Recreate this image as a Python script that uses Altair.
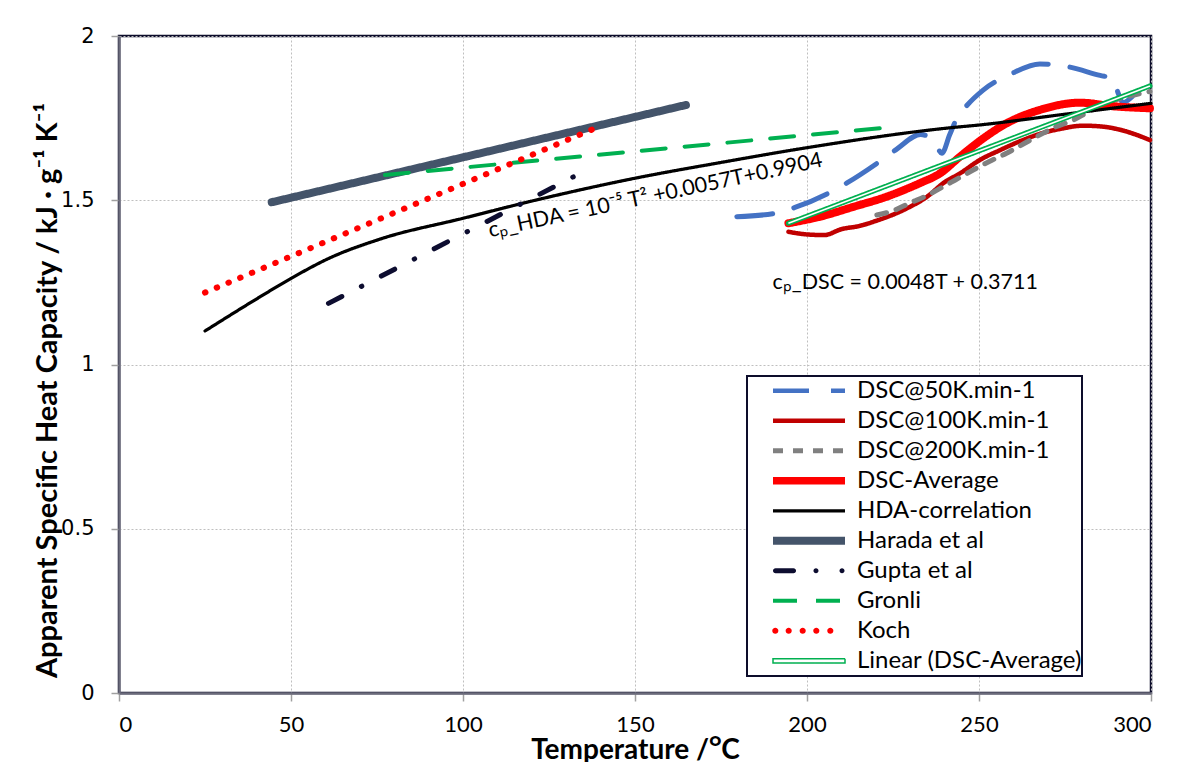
import altair as alt
import pandas as pd

# ---------------- data ----------------
series_names = [
    "DSC@50K.min-1", "DSC@100K.min-1", "DSC@200K.min-1", "DSC-Average",
    "HDA-correlation", "Harada et al", "Gupta et al", "Gronli", "Koch",
    "Linear (DSC-Average)",
]

dsc50_T = [179.6, 190.7, 196.5, 206.7, 211.5, 220.3, 226.0, 233.0, 236.8, 239.2, 241.5,
           243.5, 245.4, 251.3, 259.0, 267.7, 274.5, 285.2, 289.0, 290.5, 291.8, 294.5]
dsc50_cp = [1.450, 1.460, 1.478, 1.524, 1.552, 1.612, 1.655, 1.700, 1.683, 1.643, 1.700,
            1.748, 1.775, 1.836, 1.883, 1.915, 1.909, 1.880, 1.870, 1.825, 1.797, 1.815]

dsc100_T = [194.6, 199.9, 205.0, 210.0, 215.4, 220.0, 228.0, 234.8, 240.0, 244.5,
            250.3, 256.0, 262.0, 267.7, 274.0, 280.3, 286.0, 290.0, 295.0, 299.7]
dsc100_cp = [1.404, 1.396, 1.394, 1.412, 1.422, 1.437, 1.470, 1.510, 1.555, 1.582,
             1.623, 1.652, 1.680, 1.702, 1.718, 1.727, 1.724, 1.717, 1.702, 1.683]

dsc200_T = [220.3, 225.0, 230.0, 235.0, 238.7, 243.0, 248.3, 253.0, 258.0, 263.0,
            267.7, 272.0, 277.4, 282.0, 287.1, 292.9, 299.7]
dsc200_cp = [1.455, 1.468, 1.492, 1.515, 1.536, 1.561, 1.592, 1.618, 1.643, 1.672,
             1.699, 1.722, 1.744, 1.770, 1.795, 1.815, 1.831]

avg_T = [194.6, 203.8, 213.5, 223.2, 232.8, 238.7, 244.5, 251.2, 258.0, 267.7, 279.4, 289.0, 299.7]
avg_cp = [1.430, 1.450, 1.480, 1.511, 1.552, 1.582, 1.633, 1.688, 1.734, 1.775, 1.797, 1.786, 1.780]

hda_T = [25, 41, 50, 61, 76, 100, 121, 150, 175, 200, 242, 250, 275, 300]
hda_cp = [1.102, 1.206, 1.262, 1.323, 1.382, 1.445, 1.500, 1.567, 1.615, 1.660,
          1.721, 1.729, 1.762, 1.795]

harada_T = [44.4, 164.8]
harada_cp = [1.494, 1.790]

gupta_T = [60.9, 135.0]
gupta_cp = [1.186, 1.587]

gronli_T = [77.3, 226.0]
gronli_cp = [1.577, 1.724]

koch_T = [25.0, 137.9]
koch_cp = [1.219, 1.717]

linear_T = [194.6, 299.7]
linear_cp = [1.430, 1.848]

x_ticks = [0, 50, 100, 150, 200, 250, 300]
y_ticks = [0, 0.5, 1, 1.5, 2]

ann_hda_text = ["cₚ_HDA = 10⁻⁵ T² +0.0057T+0.9904"]
ann_hda_T = [107.5]
ann_hda_cp = [1.405]
ann_dsc_text = ["cₚ_DSC = 0.0048T + 0.3711"]
ann_dsc_T = [190.0]
ann_dsc_cp = [1.248]

# ---------------- build table ----------------
series_data = [
    (series_names[0], dsc50_T, dsc50_cp),
    (series_names[1], dsc100_T, dsc100_cp),
    (series_names[2], dsc200_T, dsc200_cp),
    (series_names[3], avg_T, avg_cp),
    (series_names[4], hda_T, hda_cp),
    (series_names[5], harada_T, harada_cp),
    (series_names[6], gupta_T, gupta_cp),
    (series_names[7], gronli_T, gronli_cp),
    (series_names[8], koch_T, koch_cp),
    (series_names[9], linear_T, linear_cp),
]
rows = []
for name, ts, cs in series_data:
    for i, (t, c) in enumerate(zip(ts, cs)):
        rows.append({"series": name, "T": t, "cp": c, "i": i})
df = pd.DataFrame(rows)

# ---------------- styles ----------------
colors = ["#4472C4", "#C00000", "#808080", "#FF0000", "#000000",
          "#44546A", "#0D0D30", "#00B050", "#FF0000", "#00B050"]
dashes = [[36, 22], [1, 0], [10, 10], [1, 0], [1, 0],
          [1, 0], [15, 22, 0.5, 22], [24, 19], [0.5, 12.2], [1, 0]]
widths = [5, 4.5, 5, 8, 3.2, 8, 5, 4, 6, 5]
legend_widths = [4.5, 4.5, 5, 7.5, 3.2, 8, 0, 4, 0, 1.5]
interp = ["monotone", "monotone", "monotone", "monotone", "monotone",
          "linear", "linear", "linear", "linear", "linear"]

LINEAR = series_names[9]
GUPTA = series_names[6]
KOCH = series_names[8]


def circle(cx, r):
    return (f"M{cx - r:.3f},0A{r:.3f},{r:.3f} 0 1,0 {cx + r:.3f},0"
            f"A{r:.3f},{r:.3f} 0 1,0 {cx - r:.3f},0Z")


# legend swatch shapes (unit coordinates, 1 = half the swatch length)
koch_path = "".join(circle(c, 0.085) for c in [-0.936, -0.564, -0.175, 0.203, 0.592])
gupta_path = ("M-0.93,-0.07H-0.43A0.07,0.07 0 0,1 -0.43,0.07H-0.93A0.07,0.07 0 0,1 -0.93,-0.07Z"
              + circle(0.194, 0.07) + circle(0.917, 0.07))
linear_path = "M-1,-0.06H1V0.06H-1Z"

width_expr = " : ".join(
    f"datum.value === '{n}' ? {w}" for n, w in zip(series_names, legend_widths)
) + " : 3"
shape_expr = (f"datum.value === '{LINEAR}' ? '{linear_path}' : "
              f"datum.value === '{KOCH}' ? '{koch_path}' : "
              f"datum.value === '{GUPTA}' ? '{gupta_path}' : 'stroke'")
fill_expr = (f"datum.value === '{KOCH}' ? '#FF0000' : "
             f"datum.value === '{GUPTA}' ? '#0D0D30' : 'transparent'")

legend = alt.Legend(
    title=None,
    orient="none",
    legendX=628,
    legendY=340,
    padding=0,
    clipHeight=29.6,
    rowPadding=0,
    symbolSize=72 * 72,
    symbolOffset=50,
    labelOffset=36,
    labelFont="Lato",
    labelFontSize=24,
    labelColor="#000000",
    labelLimit=500,
    strokeColor="#0D0D2B",
    fillColor="#FFFFFF",
    symbolType={"expr": shape_expr},
    symbolStrokeWidth={"expr": width_expr},
    symbolFillColor={"expr": fill_expr},
)

color_enc = alt.Color("series:N", scale=alt.Scale(domain=series_names, range=colors),
                      legend=legend)
dash_enc = alt.StrokeDash("series:N", scale=alt.Scale(domain=series_names, range=dashes),
                          legend=legend)

x_enc = alt.X("T:Q", scale=alt.Scale(domain=[0, 300], nice=False, zero=False),
              axis=alt.Axis(values=x_ticks, title="Temperature /ᴼC", grid=True,
                            labelFont="Lato", labelFontSize=22, labelPadding=13,
                            titleX=516, titleY=65, titleBaseline="alphabetic",
                            titleAlign="center", titleFontSize=28))
y_enc = alt.Y("cp:Q", scale=alt.Scale(domain=[0, 2], nice=False),
              axis=alt.Axis(values=y_ticks, format="~g", grid=True,
                            title="Apparent Specific Heat Capacity / kJ · g⁻¹ K⁻¹",
                            labelFont="DejaVu Sans", labelFontSize=21, labelPadding=17,
                            titleAngle=270, titleX=-72, titleY=354,
                            titleAlign="center", titleBaseline="middle",
                            titleFontSize=29))

base = alt.Chart(df)
layers = []
for k, name in enumerate(series_names):
    layers.append(
        base.transform_filter(alt.datum.series == name)
        .mark_line(strokeWidth=widths[k], strokeCap="round", strokeJoin="round",
                   interpolate=interp[k])
        .encode(x=x_enc, y=y_enc, color=color_enc, strokeDash=dash_enc,
                order="i:Q")
    )

# white core of the double trend line
layers.append(
    base.transform_filter(alt.datum.series == LINEAR)
    .mark_line(color="#FFFFFF", strokeWidth=1.6, strokeCap="butt")
    .encode(x=x_enc, y=y_enc, order="i:Q")
)

ann1 = alt.Chart(pd.DataFrame({"text": ann_hda_text, "T": ann_hda_T, "cp": ann_hda_cp})).mark_text(
    align="left", baseline="middle", font="Lato", fontSize=21.5, angle=348, color="#000000"
).encode(x=x_enc, y=y_enc, text="text:N")

ann2 = alt.Chart(pd.DataFrame({"text": ann_dsc_text, "T": ann_dsc_T, "cp": ann_dsc_cp})).mark_text(
    align="left", baseline="middle", font="Lato", fontSize=21.5, color="#000000"
).encode(x=x_enc, y=y_enc, text="text:N")

chart = alt.layer(*layers, ann1, ann2).properties(
    width=1032,
    height=657,
    autosize=alt.AutoSizeParams(type="none"),
    padding={"left": 111, "top": 28, "right": 16, "bottom": 69},
).configure_view(
    stroke="#0D0D2B", strokeWidth=2.5
).configure_axis(
    domainColor="#6B6B7B", domainWidth=2.5,
    tickColor="#A0A0A0", tickWidth=1.5, tickSize=8,
    gridColor="#BFBFBF", gridDash=[2, 2], gridWidth=1,
    labelColor="#000000", titleColor="#000000",
    titleFont="Lato", titleFontSize=26, titleFontWeight="bold",
).configure_legend(
    strokeWidth=2
)

chart.save("out.html", embed_options={"renderer": "svg", "actions": False})
